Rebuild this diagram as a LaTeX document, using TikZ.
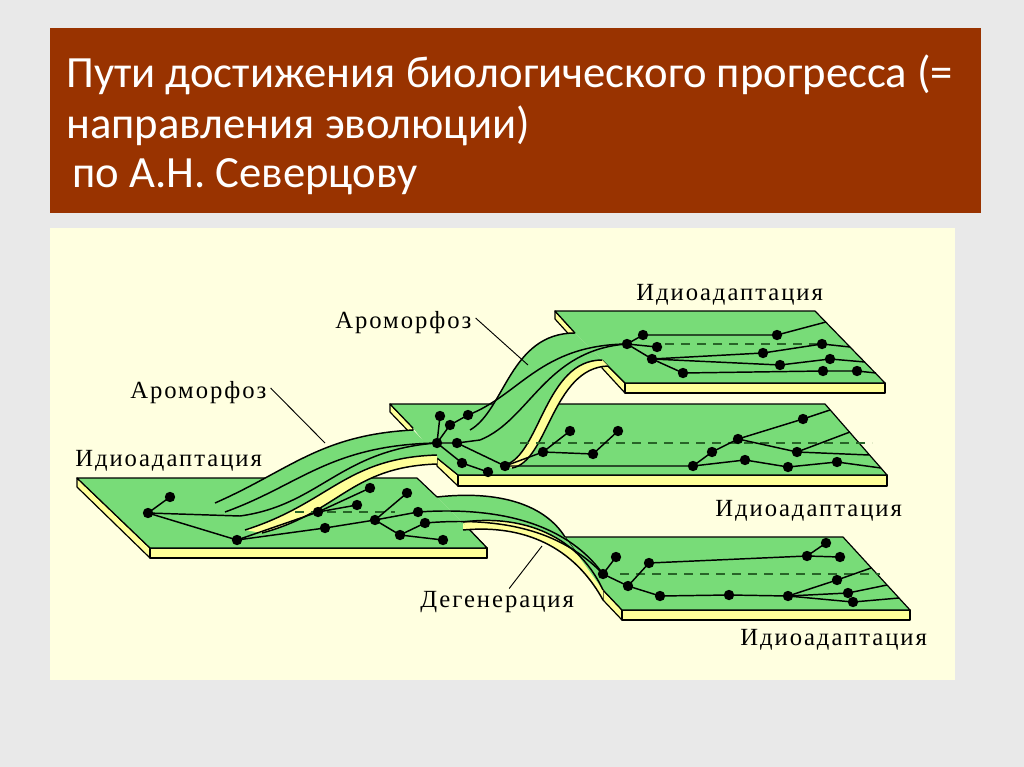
\documentclass[tikz,border=0pt]{standalone}
\usepackage{fontspec}
\setmainfont{Liberation Serif}
\newfontfamily\titlefont{Carlito}
\newfontfamily\labfont[LetterSpace=8]{Liberation Serif}
\definecolor{bgc}{RGB}{233,233,233}
\definecolor{titlec}{RGB}{153,51,0}
\definecolor{cream}{RGB}{255,255,224}
\definecolor{grn}{RGB}{120,220,120}
\definecolor{ylw}{RGB}{255,255,153}
\definecolor{dgrn}{RGB}{40,100,40}
\begin{document}
\begin{tikzpicture}[x=0.75pt,y=-0.75pt,
  top/.style={fill=grn,draw=black,line width=0.9pt,line join=round},
  side/.style={fill=ylw,draw=black,line width=0.9pt,line join=round},
  br/.style={draw=black,line width=1.1pt},
  dsh/.style={draw=dgrn,line width=2pt,dash pattern=on 7pt off 5pt},
  lab/.style={anchor=base west,inner sep=0pt,font=\labfont\fontsize{18.5}{20}\selectfont},
  ttl/.style={anchor=base west,inner sep=0pt,text=white,font=\titlefont\fontsize{33.5}{38}\selectfont},
  lead/.style={draw=black,line width=0.7pt}]
\useasboundingbox (0,0) rectangle (1024,767);
\fill[bgc] (0,0) rectangle (1024,767);
\fill[titlec] (50,28) rectangle (981,213);
\node[ttl] (t1) at (66,88) {Пути достижения биологического прогресса (=};
\node[ttl] (t2) at (66,138) {направления эволюции)};
\node[ttl] (t3) at (72,187) {по А.Н. Северцову};
\fill[cream] (50,228) rectangle (955,680);

% platform 3 (top right)
\draw[side] (555,311) -- (575,333) -- (575,341) -- (555,319) -- cycle;
\draw[side] (602,360) -- (625,383) -- (625,393) -- (602,368) -- cycle;
\draw[side] (625,383) rectangle (885,393);
\draw[top] (575,333) -- (555,311) -- (815,311) -- (885,383) -- (625,383) -- (602,360);
% platform 2 (middle)
\draw[side] (390,404) -- (413,428) -- (413,436) -- (390,412) -- cycle;
\draw[side] (437,458) -- (458,475) -- (458,486) -- (437,466) -- cycle;
\draw[side] (458,475) rectangle (887,486);
\draw[top] (413,428) -- (390,404) -- (825,404) -- (887,475) -- (458,475) -- (437,458);
% platform 1 (left)
\draw[side] (77,478) -- (150,548) -- (150,558) -- (77,487) -- cycle;
\draw[side] (465,525) -- (487,548) -- (487,558) -- (465,533) -- cycle;
\draw[side] (150,548) rectangle (487,558);
\draw[top] (437,497) -- (417,478) -- (77,478) -- (150,548) -- (487,548) -- (465,525);
% platform 4 (bottom right)
\draw[side] (603,590) -- (622,610) -- (622,620) -- (603,600) -- cycle;
\draw[side] (622,610) rectangle (910,620);
\draw[top] (603,590) -- (565,537) -- (843,537) -- (910,610) -- (622,610) -- (603,590);

% ribbon 1 (aromorphosis, lower)
\fill[ylw] (245,530) .. controls (330,503) and (345,458) .. (437,455) -- (437,464) .. controls (350,467) and (340,512) .. (262,533) -- cycle;
\draw[br] (262,533) .. controls (340,512) and (350,467) .. (437,464);
\fill[grn] (215,503) .. controls (290,470) and (320,435) .. (413,430) -- (437,455) .. controls (345,458) and (330,503) .. (240,528) -- cycle;
\draw[br] (215,503) .. controls (290,470) and (320,435) .. (413,430);
\draw[br] (245,530) .. controls (330,503) and (345,458) .. (437,455);
% ribbon 3 (degeneration)
\fill[ylw] (463,522) .. controls (515,515) and (575,530) .. (603,590) -- (603,600) .. controls (570,540) and (515,525) .. (463,530) -- cycle;
\draw[br] (463,530) .. controls (515,525) and (570,540) .. (603,600);
\fill[grn] (437,497) .. controls (500,490) and (545,505) .. (565,537) -- (603,590) .. controls (575,530) and (515,515) .. (463,522) -- (465,525) -- cycle;
\draw[br] (437,497) .. controls (500,490) and (545,505) .. (565,537);
\draw[br] (463,522) .. controls (515,515) and (575,530) .. (603,590);
% ribbon 2 (aromorphosis, upper)
\fill[ylw] (505,465) .. controls (540,455) and (545,360) .. (602,360) -- (608,366) .. controls (552,368) and (548,462) .. (512,468) -- cycle;
\draw[br] (512,468) .. controls (548,462) and (552,368) .. (608,366);
\fill[grn] (470,430) .. controls (505,410) and (510,333) .. (575,333) -- (602,360) .. controls (545,360) and (540,455) .. (505,465) -- cycle;
\draw[br] (470,430) .. controls (505,410) and (510,333) .. (575,333);
\draw[br] (505,465) .. controls (540,455) and (545,360) .. (602,360);

% dots
\coordinate (A0) at (148,513); \coordinate (A1) at (170,497); \coordinate (A2) at (237,540);
\coordinate (A3) at (318,512); \coordinate (A4) at (357,505); \coordinate (A5) at (370,488);
\coordinate (A6) at (325,528); \coordinate (A7) at (375,520); \coordinate (A8) at (407,493);
\coordinate (A9) at (418,512); \coordinate (A10) at (425,523); \coordinate (A11) at (400,535);
\coordinate (A12) at (443,540);
\coordinate (H) at (437,443); \coordinate (B1) at (440,416); \coordinate (B2) at (450,425);
\coordinate (B3) at (468,415); \coordinate (B4) at (457,443); \coordinate (B5) at (462,463);
\coordinate (B6) at (488,472); \coordinate (B7) at (505,466); \coordinate (B8) at (543,452);
\coordinate (B9) at (570,431); \coordinate (B10) at (593,454); \coordinate (B11) at (618,431);
\coordinate (B12) at (693,466); \coordinate (B13) at (712,452); \coordinate (B14) at (738,439);
\coordinate (B15) at (745,460); \coordinate (B16) at (797,452); \coordinate (B17) at (803,419);
\coordinate (B18) at (788,467); \coordinate (B19) at (837,462);
\coordinate (C0) at (627,344); \coordinate (C1) at (643,335); \coordinate (C2) at (657,347);
\coordinate (C3) at (652,359); \coordinate (C4) at (683,373); \coordinate (C5) at (763,353);
\coordinate (C6) at (777,335); \coordinate (C7) at (822,344); \coordinate (C8) at (780,365);
\coordinate (C9) at (830,359); \coordinate (C10) at (823,371); \coordinate (C11) at (857,371);
\coordinate (D0) at (603,574); \coordinate (D1) at (616,557); \coordinate (D2) at (649,563);
\coordinate (D3) at (628,586); \coordinate (D4) at (660,596); \coordinate (D5) at (729,595);
\coordinate (D6) at (788,596); \coordinate (D7) at (807,556); \coordinate (D8) at (826,543);
\coordinate (D9) at (840,557); \coordinate (D10) at (837,580); \coordinate (D11) at (848,593);
\coordinate (D12) at (853,602);
% edge points
\coordinate (eB1) at (830,410); \coordinate (eB2) at (850,432); \coordinate (eB3) at (869,455); \coordinate (eB4) at (881,468);
\coordinate (eC1) at (826,322); \coordinate (eC2) at (850,347); \coordinate (eC3) at (865,362); \coordinate (eC4) at (876,373);
\coordinate (eD1) at (871,568); \coordinate (eD2) at (887,585); \coordinate (eD3) at (899,598);

% dashed lines
\draw[dsh] (295,512) -- (395,512);
\draw[dsh] (520,443) -- (872,443);
\draw[dsh] (665,344) -- (818,344);
\draw[dsh] (620,574) -- (880,574);

% ribbon inner lines
\draw[br] (225,512) .. controls (300,485) and (330,445) .. (H);
\draw[br] (A0) -- (240,516) .. controls (320,505) and (340,450) .. (H);
\draw[br] (B3) .. controls (520,395) and (540,345) .. (C0);
\draw[br] (B4) -- (480,440) .. controls (530,420) and (545,350) .. (C0);
\draw[br] (A9) .. controls (520,505) and (575,535) .. (D0);
\draw[br] (A10) .. controls (520,515) and (570,540) .. (D0);

% tree edges
\draw[br] (A1) -- (A0) -- (A2) -- (A3) -- (A5);
\draw[br] (A3) -- (A4);
\draw[br] (A2) -- (A6) -- (A7) -- (A8);
\draw[br] (A7) -- (A9);
\draw[br] (A7) -- (A11) -- (A10);
\draw[br] (A11) -- (A12);
\draw[br] (B1) -- (H) -- (B2) -- (B3);
\draw[br] (H) -- (B4) -- (B7) -- (B8) -- (B9);
\draw[br] (H) -- (B5) -- (B6);
\draw[br] (B8) -- (B10) -- (B11);
\draw[br] (B7) -- (B12) -- (B13) -- (B14) -- (B17) -- (eB1);
\draw[br] (B14) -- (B16) -- (eB2);
\draw[br] (B16) -- (eB3);
\draw[br] (B12) -- (B15) -- (B18) -- (B19) -- (eB4);
\draw[br] (C0) -- (C1) -- (C6) -- (eC1);
\draw[br] (C0) -- (C2);
\draw[br] (C0) -- (C3) -- (C5) -- (C7) -- (eC2);
\draw[br] (C3) -- (C8) -- (C9) -- (eC3);
\draw[br] (C3) -- (C4) -- (C10) -- (C11) -- (eC4);
\draw[br] (D1) -- (D0) -- (D3) -- (D2) -- (D7) -- (D8);
\draw[br] (D7) -- (D9);
\draw[br] (D3) -- (D4) -- (D5) -- (D6) -- (D10) -- (eD1);
\draw[br] (D6) -- (D11) -- (eD2);
\draw[br] (D6) -- (D12) -- (eD3);

\foreach \p in {A0,A1,A2,A3,A4,A5,A6,A7,A8,A9,A10,A11,A12,H,B1,B2,B3,B4,B5,B6,B7,B8,B9,B10,B11,B12,B13,B14,B15,B16,B17,B18,B19,C0,C1,C2,C3,C4,C5,C6,C7,C8,C9,C10,C11,D0,D1,D2,D3,D4,D5,D6,D7,D8,D9,D10,D11,D12}
  \fill[black] (\p) circle[radius=5.2];

% labels
\node[lab] (l1) at (636,300) {Идиоадаптация};
\node[lab] (l2) at (335,328) {Ароморфоз};
\node[lab] (l3) at (130,398) {Ароморфоз};
\node[lab] (l4) at (75,466) {Идиоадаптация};
\node[lab] (l5) at (715,516) {Идиоадаптация};
\node[lab] (l6) at (420,607) {Дегенерация};
\node[lab] (l7) at (740,645) {Идиоадаптация};
\coordinate (r2) at (528,365); \coordinate (r1) at (325,443); \coordinate (r3) at (542,546);
\draw[lead] (l2.east) ++(4,-4) -- (r2);
\draw[lead] (l3.east) ++(4,-4) -- (r1);
\draw[lead] (l6.north) ++(12,-2) -- (r3);
\end{tikzpicture}
\end{document}
